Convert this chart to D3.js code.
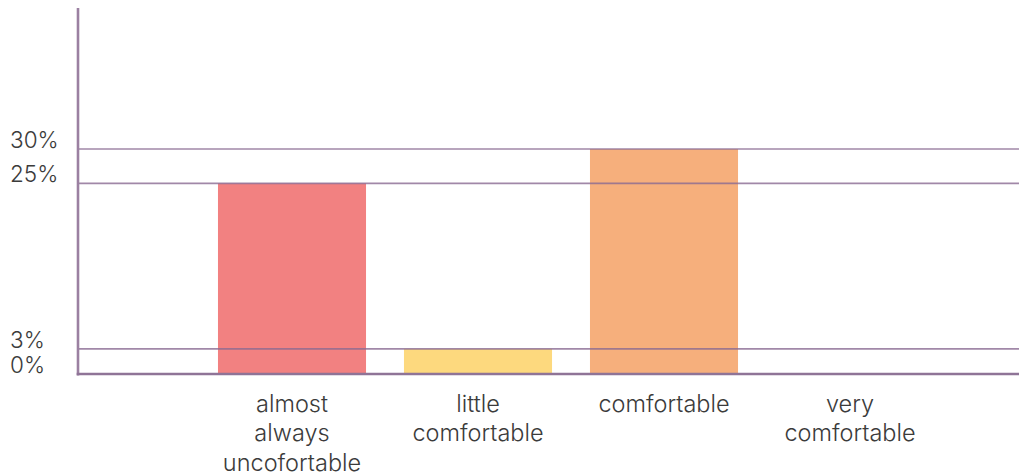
<!DOCTYPE html>
<html>
<head>
<meta charset="utf-8">
<script src="https://cdn.jsdelivr.net/npm/d3@7"></script>
<style>
  html, body { margin: 0; padding: 0; background: #fff; }
  svg { display: block; }
  text { font-family: "Inter", "Lato", sans-serif; font-weight: 300; fill: #3b3b3b; }
</style>
</head>
<body>
<svg id="chart" width="1019" height="476"></svg>
<script>
// Comfort survey: share of answers per category (percent)
const categories = [
  ["almost", "always", "uncofortable"],
  ["little", "comfortable"],
  ["comfortable"],
  ["very", "comfortable"]
];
const categoryKeys = ["almost always uncofortable", "little comfortable", "comfortable", "very comfortable"];
const values = [25, 3.3, 29.5, 0];
const barColors = ["#f28181", "#fdd97e", "#f6af7c", "#a6d8c8"];
const yMax = 48;

const width = 1019, height = 476;
const axisX = 78, baseY = 374, topY = 8;

const svg = d3.select("#chart");

const x = d3.scaleBand()
  .domain(categoryKeys)
  .range([199, 943])
  .paddingInner(0.204)
  .paddingOuter(0.102);

const y = d3.scaleLinear()
  .domain([0, yMax])
  .range([baseY, topY]);

// bars
svg.append("g")
  .selectAll("rect")
  .data(values)
  .join("rect")
  .attr("x", (d, i) => x(categoryKeys[i]))
  .attr("width", x.bandwidth())
  .attr("y", d => y(d))
  .attr("height", d => baseY - y(d))
  .attr("fill", (d, i) => barColors[i]);

// horizontal guides at each distinct bar value, labelled on the left
const tickValues = Array.from(new Set(values)).sort((a, b) => b - a);
const grid = svg.append("g");
grid.selectAll("line")
  .data(tickValues.filter(v => v > 0))
  .join("line")
  .attr("x1", axisX)
  .attr("x2", width)
  .attr("y1", d => y(d))
  .attr("y2", d => y(d))
  .attr("stroke", "#8a6a92")
  .attr("stroke-opacity", 0.8)
  .attr("stroke-width", 1.6);

grid.selectAll("text")
  .data(tickValues)
  .join("text")
  .attr("x", 10)
  .attr("y", d => y(d) - 1)
  .attr("font-size", 22.5)
  .text(d => Math.round(d) + "%");

// axes lines
svg.append("line")
  .attr("x1", axisX).attr("x2", axisX)
  .attr("y1", topY).attr("y2", baseY + 1.5)
  .attr("stroke", "#9b80a1")
  .attr("stroke-width", 2.6);

svg.append("line")
  .attr("x1", axisX - 1.3).attr("x2", width)
  .attr("y1", baseY).attr("y2", baseY)
  .attr("stroke", "#8f7497")
  .attr("stroke-width", 2.6);

// category labels
const labels = svg.append("g")
  .selectAll("text")
  .data(categories)
  .join("text")
  .attr("text-anchor", "middle")
  .attr("font-size", 23.5)
  .attr("x", (d, i) => x(categoryKeys[i]) + x.bandwidth() / 2);

labels.selectAll("tspan")
  .data(d => d)
  .join("tspan")
  .attr("x", function () { return d3.select(this.parentNode).attr("x"); })
  .attr("y", (d, j) => 412 + j * 29.3)
  .text(d => d);
</script>
</body>
</html>
